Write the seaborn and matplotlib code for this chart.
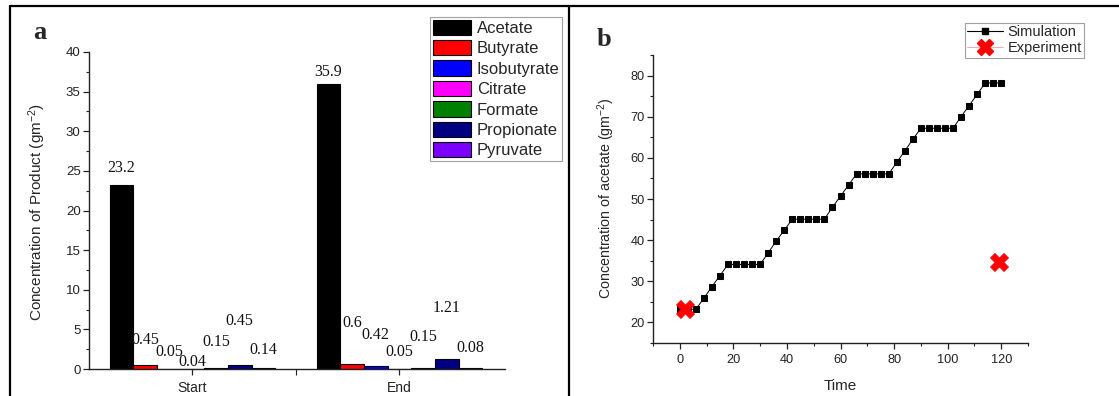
import matplotlib
matplotlib.use("Agg")
import matplotlib.pyplot as plt
import numpy as np
import pandas as pd
import seaborn as sns
from matplotlib.lines import Line2D
from matplotlib.ticker import MultipleLocator, FixedLocator

# ---------------- data ----------------
phases = ["Start", "End"]
products = ["Acetate", "Butyrate", "Isobutyrate", "Citrate", "Formate", "Propionate", "Pyruvate"]
start_vals = [23.2, 0.45, 0.05, 0.04, 0.15, 0.45, 0.14]
end_vals = [35.9, 0.6, 0.42, 0.05, 0.15, 1.21, 0.08]
start_text = ["23.2", "0.45", "0.05", "0.04", "0.15", "0.45", "0.14"]
end_text = ["35.9", "0.6", "0.42", "0.05", "0.15", "1.21", "0.08"]

sim_time = list(range(0, 121, 3))
sim_acetate = [23.2, 23.2, 23.2, 25.9, 28.7, 31.4,
               34.1, 34.1, 34.1, 34.1, 34.1,
               36.9, 39.8, 42.4,
               45.1, 45.1, 45.1, 45.1, 45.1,
               48.0, 50.7, 53.4,
               56.1, 56.1, 56.1, 56.1, 56.1,
               58.9, 61.7, 64.5,
               67.2, 67.2, 67.2, 67.2, 67.2,
               70.0, 72.7, 75.4,
               78.2, 78.2, 78.2]
exp_time = [2, 119]
exp_acetate = [23.2, 34.6]

# ---------------- style ----------------
product_colors = ["#000000", "#FF0000", "#0000FF", "#FF00FF", "#008000", "#000080", "#7B00FF"]
# annotation heights for the value labels (data units)
start_label_y = [25.4, 3.7, 2.2, 0.9, 3.4, 6.0, 2.4]
end_label_y = [37.5, 5.8, 4.3, 2.2, 4.0, 7.7, 2.6]

sns.set_style("ticks")
plt.rcParams["font.family"] = ["Liberation Sans", "DejaVu Sans"]
plt.rcParams["mathtext.fontset"] = "custom"
plt.rcParams["mathtext.rm"] = "Liberation Sans"
plt.rcParams["mathtext.it"] = "Liberation Sans:italic"

W, H = 1119, 396
fig = plt.figure(figsize=(W / 100, H / 100), dpi=100)
fig.patch.set_facecolor("white")

def fx(px):
    return px / W

def fy(py):
    return 1 - py / H

ax1 = fig.add_axes([fx(89), fy(369), fx(505) - fx(89), fy(52) - fy(369)])
ax2 = fig.add_axes([fx(653), fy(343), fx(1028) - fx(653), fy(55) - fy(343)])

# ---------------- panel a ----------------
df = pd.DataFrame({
    "Phase": np.repeat(phases, len(products)),
    "Product": products * len(phases),
    "Value": start_vals + end_vals,
})
sns.barplot(data=df, x="Phase", y="Value", hue="Product", order=phases,
            hue_order=products, palette=product_colors, ax=ax1,
            edgecolor="black", linewidth=0.8, width=0.8, saturation=1, legend=True)

label_y = {"Start": start_label_y, "End": end_label_y}
label_txt = {"Start": start_text, "End": end_text}
for hi, cont in enumerate(ax1.containers):
    for pi, bar in enumerate(cont):
        ph = phases[pi]
        cx = bar.get_x() + bar.get_width() / 2
        ax1.text(cx, label_y[ph][hi], label_txt[ph][hi], ha="center", va="center",
                 family=["Liberation Serif"], fontsize=11.5, color="#111111")

ax1.set_xlim(-0.5, 1.51)
ax1.set_ylim(0, 40)
ax1.yaxis.set_major_locator(MultipleLocator(5))
ax1.yaxis.set_minor_locator(MultipleLocator(2.5))
ax1.set_xticks([0, 1])
ax1.set_xticklabels(phases)
ax1.xaxis.set_minor_locator(FixedLocator([0.5]))
ax1.set_xlabel("")
ax1.set_ylabel(r"Concentration of Product (gm$^{-2}$)", fontsize=11)
ax1.yaxis.set_label_coords(-0.098, 0.495)

handles, labels = ax1.get_legend_handles_labels()
leg1 = ax1.legend(handles, labels, loc="upper right",
                  bbox_to_anchor=(fx(562), fy(17)), bbox_transform=fig.transFigure,
                  borderaxespad=0, fontsize=12, frameon=True, fancybox=False,
                  handlelength=2.3, handleheight=1.05, labelspacing=0.24,
                  handletextpad=0.35, borderpad=0.15)
leg1.get_frame().set_edgecolor("#888888")
leg1.get_frame().set_linewidth(0.8)

# ---------------- panel b ----------------
sns.lineplot(x=sim_time, y=sim_acetate, ax=ax2, color="black", linewidth=0.7,
             marker="s", markersize=5, markeredgecolor="black", legend=False)
sns.scatterplot(x=exp_time, y=exp_acetate, ax=ax2, marker="X", s=170,
                color="red", edgecolor="red", linewidth=0.5, zorder=5, legend=False)

ax2.set_xlim(-10, 130)
ax2.set_ylim(15, 85)
ax2.xaxis.set_major_locator(MultipleLocator(20))
ax2.xaxis.set_minor_locator(MultipleLocator(10))
ax2.yaxis.set_major_locator(MultipleLocator(10))
ax2.yaxis.set_minor_locator(MultipleLocator(5))
ax2.set_xlabel("Time", fontsize=11)
ax2.set_ylabel(r"Concentration of acetate (gm$^{-2}$)", fontsize=10.3)
ax2.yaxis.set_label_coords(-0.096, 0.503)
ax2.xaxis.set_label_coords(0.50, -0.125)

h_sim = Line2D([], [], color="black", lw=0.8, marker="s", markersize=4.5)
h_exp = Line2D([], [], color="#f0a0a0", lw=0.6, marker="X", markersize=12,
               markerfacecolor="red", markeredgecolor="red")
leg2 = ax2.legend([h_sim, h_exp], ["Simulation", "Experiment"], loc="upper right",
                  bbox_to_anchor=(fx(1084), fy(23)), bbox_transform=fig.transFigure,
                  borderaxespad=0, fontsize=10.5, frameon=True, fancybox=False,
                  handlelength=2.5, labelspacing=0.15, handletextpad=0.3,
                  borderpad=0.15)
leg2.get_frame().set_edgecolor("#888888")
leg2.get_frame().set_linewidth(0.8)

for ax in (ax1, ax2):
    sns.despine(ax=ax)
    for s in ("left", "bottom"):
        ax.spines[s].set_linewidth(1.0)
        ax.spines[s].set_color("#222222")
    ax.tick_params(which="major", direction="out", length=4, width=0.9,
                   colors="#222222", pad=2)
    ax.tick_params(which="minor", direction="out", length=2.5, width=0.8, colors="#222222")
ax1.tick_params(axis="y", labelsize=9.5)
ax1.tick_params(axis="x", which="both", length=4, pad=5, labelsize=10)
ax2.tick_params(axis="both", labelsize=9.2)
ax2.tick_params(axis="x", which="major", pad=4)

# panel letters
fig.text(fx(40), fy(39), "a", family=["Liberation Serif"], fontweight="bold",
         fontsize=19, ha="center", va="baseline")
fig.text(fx(604), fy(46), "b", family=["Liberation Serif"], fontweight="bold",
         fontsize=19, ha="center", va="baseline")

# frame lines
fig.add_artist(Line2D([fx(10), 1.0], [fy(6), fy(6)], transform=fig.transFigure,
                      color="black", lw=1.6))
fig.add_artist(Line2D([fx(10), fx(10)], [0, fy(6)], transform=fig.transFigure,
                      color="black", lw=1.6))
fig.add_artist(Line2D([fx(569), fx(569)], [0, fy(6)], transform=fig.transFigure,
                      color="black", lw=1.6))

fig.savefig("out.png", dpi=100, facecolor="white")
